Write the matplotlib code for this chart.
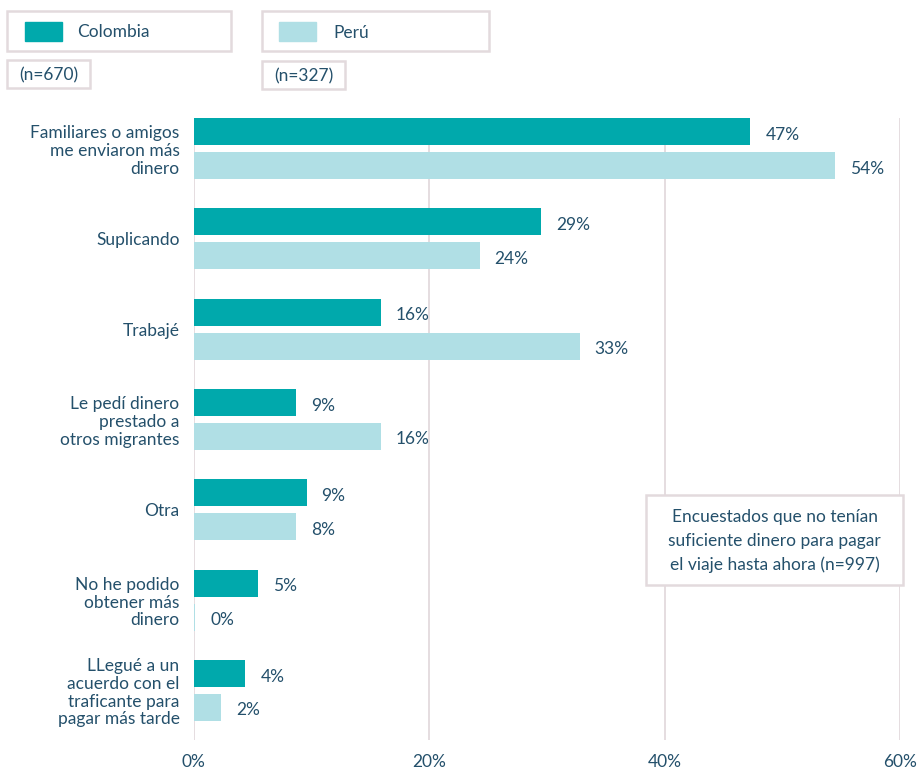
import numpy as np
import matplotlib.pyplot as plt
import matplotlib.transforms as mtransforms
from matplotlib.patches import Rectangle

categories = ['Familiares o amigos\nme enviaron más\ndinero',
              'Suplicando',
              'Trabajé',
              'Le pedí dinero\nprestado a\notros migrantes',
              'Otra',
              'No he podido\nobtener más\ndinero',
              'LLegué a un\nacuerdo con el\ntraficante para\npagar más tarde']
colombia = [47.3, 29.5, 15.9, 8.7, 9.6, 5.5, 4.4]
peru = [54.5, 24.3, 32.8, 15.9, 8.7, 0.15, 2.35]
colombia_labels = ['47%', '29%', '16%', '9%', '9%', '5%', '4%']
peru_labels = ['54%', '24%', '33%', '16%', '8%', '0%', '2%']
xticks = [0, 20, 40, 60]

c_col = '#00a9ac'
c_per = '#b0dfe5'
txt = '#24506b'
edge = '#e3dadd'
W, H = 919, 769
fs = 12.5

plt.rcParams['font.family'] = ['Lato', 'DejaVu Sans']
fig = plt.figure(figsize=(W / 100, H / 100), dpi=100)


def fx(x):
    return x / W


def fy(y):
    return 1 - y / H


ax = fig.add_axes([fx(193.5), fy(740), fx(900) - fx(193.5), fy(118) - fy(740)])
y = np.arange(len(categories))
h = 0.30
off = 0.188
ax.barh(y - off, colombia, height=h, color=c_col, zorder=3)
ax.barh(y + off, peru, height=h, color=c_per, zorder=3)
ax.set_xlim(0, 60)
ax.set_ylim(6.548, -0.338)

for i in range(len(categories)):
    ax.annotate(colombia_labels[i], (colombia[i], y[i] - off), xytext=(15, -3),
                textcoords='offset pixels', va='center', ha='left', fontsize=fs, color=txt)
    ax.annotate(peru_labels[i], (peru[i], y[i] + off), xytext=(15, -3),
                textcoords='offset pixels', va='center', ha='left', fontsize=fs, color=txt)

ax.set_yticks(y)
ax.set_yticklabels(categories, fontsize=fs, color=txt, linespacing=1.13)
shift = mtransforms.ScaledTranslation(0, -3 / 100, fig.dpi_scale_trans)
for lab in ax.get_yticklabels():
    lab.set_transform(lab.get_transform() + shift)
ax.set_xticks(xticks)
ax.set_xticklabels([f'{t}%' for t in xticks], fontsize=fs, color=txt)
ax.tick_params(axis='both', length=0)
ax.tick_params(axis='y', pad=10)
ax.tick_params(axis='x', pad=10)
for s in ax.spines.values():
    s.set_visible(False)
ax.grid(axis='x', color=edge, linewidth=1.3, zorder=0)
ax.set_axisbelow(True)


def box(x0, y0, x1, y1, z=5):
    fig.add_artist(Rectangle((fx(x0), fy(y1)), fx(x1) - fx(x0), fy(y0) - fy(y1),
                             transform=fig.transFigure, facecolor='white',
                             edgecolor=edge, linewidth=1.8, zorder=z))


# legend
box(7, 11, 231, 51)
fig.add_artist(Rectangle((fx(25), fy(41)), fx(62) - fx(25), fy(22) - fy(41),
                         transform=fig.transFigure, color=c_col, zorder=6))
fig.text(fx(77), fy(32), 'Colombia', fontsize=fs, color=txt, va='center', zorder=7)
box(262, 11, 489, 51)
fig.text(fx(333), fy(33), 'Perú', fontsize=fs, color=txt, va='center', zorder=7)
fig.add_artist(Rectangle((fx(279), fy(41)), fx(316) - fx(279), fy(22) - fy(41),
                         transform=fig.transFigure, color=c_per, zorder=6))
box(7, 60, 90, 88)
fig.text(fx(48.5), fy(75), '(n=670)', fontsize=fs, color=txt, va='center', ha='center', zorder=7)
box(262, 61, 345, 89)
fig.text(fx(303.5), fy(76), '(n=327)', fontsize=fs, color=txt, va='center', ha='center', zorder=7)

# note
box(646, 495, 903, 585)
fig.text(fx(774.5), fy(541), 'Encuestados que no tenían\nsuficiente dinero para pagar\nel viaje hasta ahora (n=997)',
         fontsize=fs, color=txt, va='center', ha='center', linespacing=1.55, zorder=7)

fig.savefig('out.png', dpi=100)
